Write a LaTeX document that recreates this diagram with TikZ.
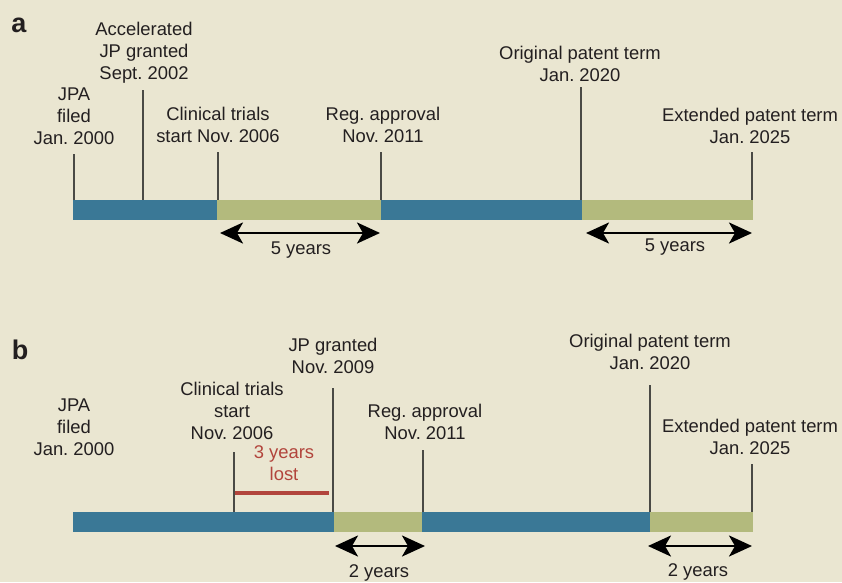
\documentclass[tikz,border=0pt]{standalone}
\usepackage{fontspec}
\setmainfont{Liberation Sans}
\usetikzlibrary{arrows.meta}
\definecolor{bgc}{HTML}{EAE6D1}
\definecolor{bluec}{HTML}{3A7896}
\definecolor{greenc}{HTML}{B3BA7D}
\definecolor{redc}{HTML}{B2453C}
\definecolor{textc}{HTML}{231F20}
\definecolor{tickc}{HTML}{4A4A45}
\frenchspacing
\begin{document}
\begin{tikzpicture}[x=1pt,y=-1pt,
  lbl/.style={font=\fontsize{18.4}{22}\selectfont\frenchspacing, align=center, inner sep=0pt, text=textc},
  panel/.style={font=\fontsize{27}{30}\selectfont\bfseries, inner sep=0pt, text=textc},
  tickline/.style={draw=tickc, line width=1.3pt},
  span/.style={{Stealth[length=23pt,width=21pt,inset=6pt]}-{Stealth[length=23pt,width=21pt,inset=6pt]}, line width=2.8pt, draw=black},
  bluebar/.style={fill=bluec, draw=none},
  greenbar/.style={fill=greenc, draw=none}]
\fill[bgc] (0,0) rectangle (842,582);
\useasboundingbox (0,0) rectangle (842,582);

% ---------- panel a ----------
\node[panel] (pa) at (19,25) {a};
\fill[bluebar]  (73,200) rectangle (217,220);
\fill[greenbar] (217,200) rectangle (381,220);
\fill[bluebar]  (381,200) rectangle (582,220);
\fill[greenbar] (582,200) rectangle (753,220);

\node[lbl] (acc)  at (144,53)  {Accelerated\\JP granted\\Sept. 2002};
\node[lbl] (jpa)  at (74,116)  {JPA\\filed\\Jan. 2000};
\node[lbl] (clin) at (218,125) {Clinical trials\\start Nov. 2006};
\node[lbl] (reg)  at (383,125) {Reg. approval\\Nov. 2011};
\node[lbl] (orig) at (580,64)  {Original patent term\\Jan. 2020};
\node[lbl] (ext)  at (750,126) {Extended patent term\\Jan. 2025};

\coordinate (ta1) at (74,154);  \coordinate (ba1) at (74,200);
\coordinate (ta2) at (143,90);  \coordinate (ba2) at (143,200);
\coordinate (ta3) at (218,152); \coordinate (ba3) at (218,200);
\coordinate (ta4) at (381,152); \coordinate (ba4) at (381,200);
\coordinate (ta5) at (581,87);  \coordinate (ba5) at (581,200);
\coordinate (ta6) at (752,152); \coordinate (ba6) at (752,200);
\foreach \i in {1,...,6} \draw[tickline] (ta\i) -- (ba\i);

\coordinate (aa1) at (220,233); \coordinate (aa2) at (380,233);
\coordinate (aa3) at (586,233); \coordinate (aa4) at (752,233);
\draw[span] (aa1) -- (aa2);
\draw[span] (aa3) -- (aa4);
\node[lbl] (fy1) at (301,250) {5 years};
\node[lbl] (fy2) at (675,247) {5 years};

% ---------- panel b ----------
\node[panel] (pb) at (20,350) {b};
\fill[bluebar]  (73,512) rectangle (334,532);
\fill[greenbar] (334,512) rectangle (422,532);
\fill[bluebar]  (422,512) rectangle (650,532);
\fill[greenbar] (650,512) rectangle (753,532);

\node[lbl] (jpab)  at (74,427)  {JPA\\filed\\Jan. 2000};
\node[lbl] (clinb) at (232,411) {Clinical trials\\start\\Nov. 2006};
\node[lbl] (jpg)   at (333,356) {JP granted\\Nov. 2009};
\node[lbl] (regb)  at (425,422) {Reg. approval\\Nov. 2011};
\node[lbl] (origb) at (650,352) {Original patent term\\Jan. 2020};
\node[lbl] (extb)  at (750,437) {Extended patent term\\Jan. 2025};
\node[lbl, text=redc] (lost) at (284,463) {3 years\\lost};

\coordinate (tb1) at (234,452); \coordinate (bb1) at (234,512);
\coordinate (tb2) at (333,388); \coordinate (bb2) at (333,512);
\coordinate (tb3) at (423,450); \coordinate (bb3) at (423,512);
\coordinate (tb4) at (650,385); \coordinate (bb4) at (650,512);
\coordinate (tb5) at (752,464); \coordinate (bb5) at (752,512);
\foreach \i in {1,...,5} \draw[tickline] (tb\i) -- (bb\i);

\coordinate (rl1) at (235,492.5); \coordinate (rl2) at (329,492.5);
\draw[redc, line width=4pt] (rl1) -- (rl2);

\coordinate (ab1) at (335,546); \coordinate (ab2) at (425,546);
\coordinate (ab3) at (648,546); \coordinate (ab4) at (752,546);
\draw[span] (ab1) -- (ab2);
\draw[span] (ab3) -- (ab4);
\node[lbl] (ty1) at (379,573) {2 years};
\node[lbl] (ty2) at (698,572) {2 years};
\end{tikzpicture}
\end{document}
